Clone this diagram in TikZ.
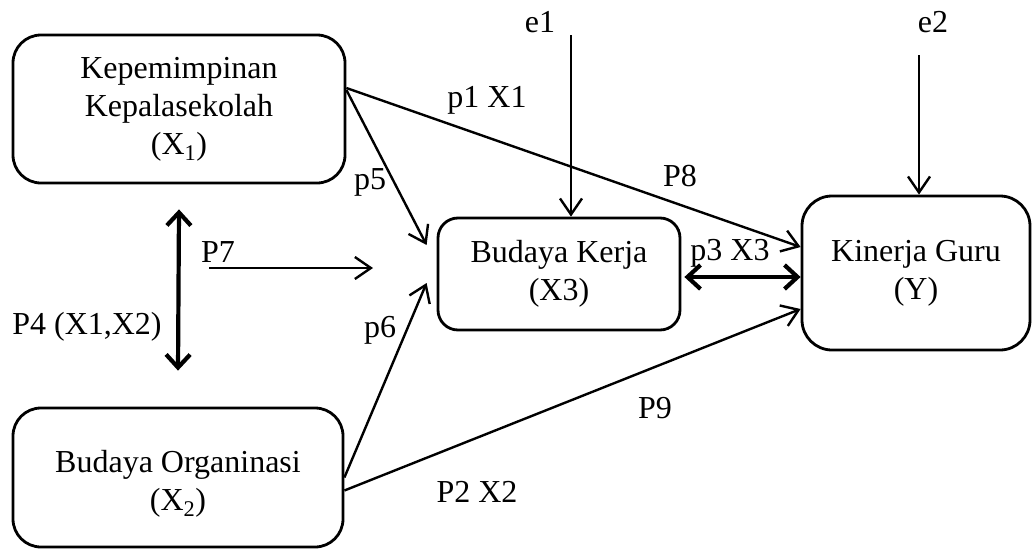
\documentclass[tikz,border=0pt]{standalone}
\usepackage{fontspec}
\setmainfont{Liberation Serif}
\usetikzlibrary{arrows.meta}
\begin{document}
\begin{tikzpicture}[x=1pt,y=-1pt,
  every node/.style={font=\fontsize{32}{38}\selectfont},
  box/.style={draw, line width=2.8pt, align=center, inner sep=0pt},
  lbl/.style={inner sep=0pt},
  arr/.style={line width=2.4pt, -{Straight Barb[length=16pt,width=22pt,line width=2.4pt]}},
  dbl/.style={line width=4.2pt, {Straight Barb[length=13pt,width=24pt,line width=4.2pt]}-{Straight Barb[length=13pt,width=24pt,line width=4.2pt]}}]
\useasboundingbox (0,0) rectangle (1034,549);
% boxes
\node[box, rounded corners=28pt, minimum width=332pt, minimum height=148pt] (X1) at (179,109) {Kepemimpinan\\Kepalasekolah\\(X\textsubscript{1})};
\node[box, rounded corners=20pt, minimum width=242pt, minimum height=112pt] (X3) at (559,274) {Budaya Kerja\\(X3)};
\node[box, rounded corners=30pt, minimum width=228pt, minimum height=154pt] (Y) at (916,273) {Kinerja Guru\\(Y)};
\node[box, rounded corners=28pt, minimum width=330pt, minimum height=139pt] (X2) at (178,477.5) {};
\node[lbl, align=center] (X2t) at ([yshift=-6pt]X2.center) {Budaya Organinasi\\(X\textsubscript{2})};
% free ends
\coordinate (e1s) at (571,35);
\coordinate (e2s) at (919,55);
\coordinate (p7s) at (209,268);
\coordinate (p7e) at (373,268);
% connectors
\draw[arr] ([yshift=21pt]X1.east) -- ([yshift=26pt]Y.west);
\draw[arr] ([yshift=19pt]X1.east) -- ([xshift=-10pt,yshift=29pt]X3.west);
\draw[arr] (p7s) -- (p7e);
\draw[dbl] ([yshift=-25pt]X1.south) -- ([yshift=36pt]X2.north);
\draw[arr] (X2.east) -- ([xshift=-10pt,yshift=-9pt]X3.west);
\draw[arr] ([yshift=-13pt]X2.east) -- ([yshift=-36pt]Y.west);
\draw[dbl] ([xshift=3pt,yshift=-3pt]X3.east) -- ([yshift=-4pt]Y.west);
\draw[arr] (e1s) -- (e1s |- X3.north);
\draw[arr] (e2s) -- (e2s |- Y.north);
% labels
\node[lbl] (le1) at (540,22) {e1};
\node[lbl] (le2) at (933,22) {e2};
\node[lbl] (lp1) at (487,100) {p1 X1};
\node[lbl] (lp8) at (680,176) {P8};
\node[lbl] (lp5) at (370,182) {p5};
\node[lbl] (lp7) at (218,252) {P7};
\node[lbl] (lp4) at (87,327) {P4 (X1,X2)};
\node[lbl] (lp6) at (380,330) {p6};
\node[lbl] (lp3) at (730,253) {p3 X3};
\node[lbl] (lp9) at (655,408) {P9};
\node[lbl] (lp2) at (477,492) {P2 X2};
\end{tikzpicture}
\end{document}
